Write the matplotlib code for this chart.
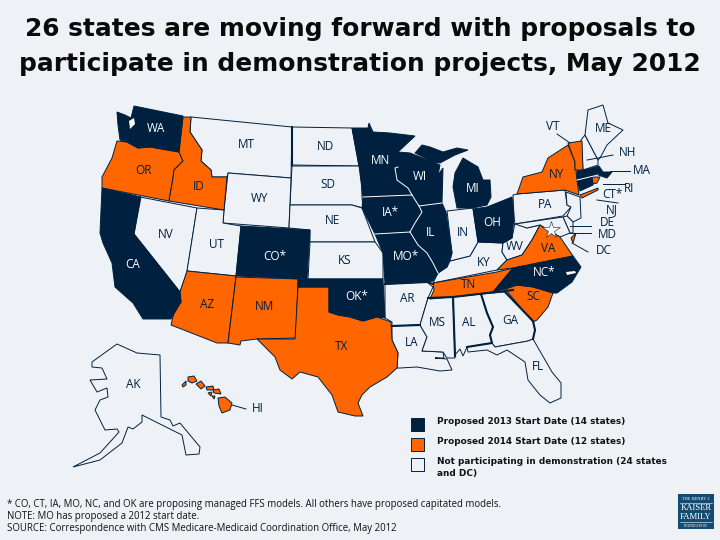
import matplotlib
matplotlib.use('Agg')
import matplotlib.pyplot as plt
from matplotlib.patches import Polygon, Rectangle

bg = '#eef2f6'
navy = '#002040'
orange = '#ff6600'

# state groups
states_2013 = ['WA', 'CA', 'CO', 'OK', 'MN', 'WI', 'MI', 'MI2', 'IA', 'IL', 'MO', 'OH', 'NC', 'MA', 'CT']
states_2014 = ['OR', 'ID', 'AZ', 'NM', 'TX', 'TN', 'VA', 'VA2', 'SC', 'NY', 'NY2', 'VT', 'RI',
               'HI1', 'HI2', 'HI3', 'HI4', 'HI5', 'HI6', 'HI7', 'HI8']
states_none = ['MT', 'ND', 'SD', 'WY', 'NV', 'UT', 'NE', 'KS', 'AR', 'LA', 'MS', 'AL', 'GA', 'FL', 'KY', 'IN',
               'WV', 'PA', 'NH', 'ME', 'NJ', 'DE', 'MD', 'AK']

# outlines, in pixels
outlines = {
    'WA': [(117,112),(125,115),(131,118),(134,106),(183,116),(179,152),(150,147),(138,148),(127,142),(120,140),(118,125)],
    'OR': [(117,141),(127,142),(138,148),(150,147),(179,152),(183,161),(174,170),(173,178),(169,201),(102,188),(102,177),(112,158)],
    'ID': [(183,117),(191,117),(190,132),(202,150),(201,161),(211,170),(212,177),(227,177),(224,210),(169,201),(173,178),(174,170),(183,161),(179,152)],
    'MT': [(191,117),(292,127),(291,178),(228,173),(227,177),(212,177),(211,170),(201,161),(202,150),(190,132)],
    'WY': [(228,173),(291,178),(289,228),(223,223),(224,210)],
    'NV': [(140,197),(197,208),(187,272),(180,292),(134,234)],
    'CA': [(102,188),(141,197),(134,234),(180,292),(181,302),(171,319),(143,319),(133,303),(115,287),(112,263),(103,243),(100,233)],
    'UT': [(197,208),(224,210),(223,223),(241,226),(236,276),(187,271)],
    'CO': [(241,226),(310,230),(307,279),(236,276)],
    'AZ': [(187,271),(236,276),(228,343),(217,343),(171,325),(174,312),(181,302),(180,292)],
    'NM': [(236,277),(298,279),(296,338),(257,339),(241,341),(240,345),(228,343)],
    'TX': [(298,287),(329,287),(329,312),(338,315),(350,317),(363,321),(377,317),(391,322),(392,340),(398,353),(397,368),(387,377),
           (370,387),(362,395),(358,403),(363,416),(355,416),(338,412),(332,395),(318,377),(300,372),(292,379),(280,370),(275,357),(257,339),(295,339)],
    'OK': [(298,279),(383,279),(385,318),(377,317),(363,321),(350,317),(338,315),(329,312),(329,287),(298,287)],
    'KS': [(310,242),(375,242),(378,246),(383,253),(383,279),(308,279)],
    'NE': [(290,205),(340,205),(352,205),(362,208),(375,242),(310,242),(310,230),(289,228)],
    'SD': [(292,166),(359,166),(361,170),(362,197),(363,208),(352,205),(340,205),(290,205)],
    'ND': [(292,127),(352,128),(359,166),(292,165)],
    'MN': [(352,128),(368,128),(369,123),(373,132),(390,133),(415,136),(398,152),(398,167),(395,168),(397,180),(408,188),(412,195),(363,197),(359,166)],
    'WI': [(398,152),(410,153),(433,162),(440,165),(438,175),(443,168),(442,203),(419,206),(412,195),(408,188),(397,180),(395,168),(398,167)],
    'MI': [(415,153),(422,145),(430,147),(443,152),(457,148),(468,150),(455,155),(440,163),(433,162)],
    'MI2': [(463,158),(478,167),(483,180),(490,180),(491,197),(487,205),(473,208),(457,208),(453,187),(455,173)],
    'IA': [(363,197),(412,195),(419,206),(422,212),(415,223),(410,232),(375,234),(362,208)],
    'IL': [(419,206),(442,203),(446,212),(452,253),(447,267),(438,273),(433,263),(427,253),(418,245),(410,233),(415,223),(422,212)],
    'MO': [(375,234),(410,232),(418,245),(427,253),(433,263),(438,273),(433,281),(427,282),(385,284),(383,253)],
    'AR': [(385,284),(427,282),(433,287),(428,298),(420,325),(392,326),(392,322),(385,318)],
    'LA': [(392,326),(420,325),(427,337),(422,351),(443,352),(444,358),(435,358),(447,359),(452,370),(440,371),(417,367),(400,368),(397,368),(398,353),(392,340)],
    'MS': [(428,298),(453,297),(455,358),(447,358),(443,352),(422,351),(427,337),(420,325)],
    'AL': [(453,297),(481,294),(487,313),(493,327),(490,335),(492,343),(467,347),(463,356),(460,349),(455,355)],
    'GA': [(481,294),(505,292),(533,321),(535,330),(533,339),(528,341),(495,347),(492,343),(490,335),(493,327),(487,313)],
    'FL': [(533,339),(552,372),(561,383),(561,398),(550,403),(540,395),(528,380),(525,362),(507,350),(497,355),(487,350),(468,352),(467,347),(492,343),(495,347),(528,341)],
    'SC': [(505,289),(517,285),(533,287),(553,293),(548,307),(537,320),(533,322)],
    'NC': [(493,292),(513,268),(573,256),(581,267),(572,282),(557,293),(553,293),(533,287),(517,285),(505,289)],
    'TN': [(433,283),(497,272),(513,268),(493,292),(453,297),(430,299),(434,290)],
    'VA': [(497,270),(507,260),(522,255),(532,240),(540,225),(548,230),(560,237),(573,256),(513,268)],
    'VA2': [(571,238),(576,233),(573,243)],
    'WV': [(503,243),(512,238),(515,223),(527,228),(540,225),(532,240),(522,255),(507,260),(502,252)],
    'KY': [(438,273),(447,267),(450,261),(470,256),(478,242),(503,243),(502,252),(507,260),(497,270),(433,283)],
    'IN': [(447,211),(473,208),(478,242),(470,256),(450,261),(452,253)],
    'OH': [(473,209),(487,207),(512,197),(514,217),(512,238),(503,243),(478,242)],
    'PA': [(513,195),(517,194),(565,190),(567,205),(571,207),(563,216),(515,224),(514,217)],
    'NY': [(517,194),(523,177),(542,172),(548,158),(568,145),(575,162),(575,170),(583,170),(576,172),(579,195),(565,190)],
    'NY2': [(580,195),(598,188),(598,190),(582,198)],
    'VT': [(568,143),(582,141),(583,170),(575,170),(575,162)],
    'NH': [(581,140),(585,135),(598,160),(598,165),(583,170)],
    'ME': [(585,135),(588,110),(603,105),(608,123),(623,130),(607,145),(600,158),(598,160)],
    'MA': [(577,172),(599,166),(603,172),(612,172),(607,178),(598,175),(577,180)],
    'CT': [(577,181),(592,177),(593,185),(580,191)],
    'RI': [(592,177),(600,177),(597,183),(593,184)],
    'NJ': [(566,192),(580,197),(581,218),(573,222),(567,216),(571,207),(567,205)],
    'DE': [(563,217),(567,216),(573,222),(573,233),(570,233)],
    'MD': [(515,224),(563,217),(570,233),(560,237),(548,230),(540,225),(527,228)],
    'AK': [(117,344),(137,353),(160,355),(161,417),(170,420),(173,426),(180,423),(200,447),(199,454),(186,455),(182,435),(142,415),(142,422),
           (133,429),(128,427),(122,443),(100,460),(73,467),(100,453),(110,442),(119,432),(117,429),(105,430),(95,410),(100,400),(108,397),
           (107,388),(97,392),(90,380),(107,379),(102,368),(92,367),(92,362)],
    'HI1': [(188,377),(194,376),(197,381),(192,383),(188,381)],
    'HI2': [(182,385),(186,381),(186,385),(183,387)],
    'HI3': [(196,384),(201,381),(205,386),(201,389)],
    'HI4': [(206,387),(213,386),(214,390),(207,390)],
    'HI5': [(213,390),(219,389),(221,394),(214,393)],
    'HI6': [(208,393),(212,392),(211,396)],
    'HI7': [(212,396),(215,396),(214,399)],
    'HI8': [(218,398),(225,397),(232,403),(230,410),(222,413),(219,406)],
}

# borders between two dark states are white
white_borders = [
    [(363,197),(412,195)],
    [(398,167),(395,168),(397,180),(408,188),(412,195)],
    [(412,195),(419,206),(442,203)],
    [(419,206),(422,212),(415,223),(410,232)],
    [(375,234),(410,232),(418,245),(427,253),(433,263),(438,273)],
    [(577,180),(598,175)],
]
thick_borders = [
    [(385,284),(427,282),(433,284)],
    [(392,326),(420,325)],
    [(428,298),(453,297),(455,356)],
    [(481,294),(487,313),(493,327),(490,335),(492,343),(467,347)],
    [(453,297),(513,290)],
    [(505,292),(533,321),(535,330),(533,339)],
    [(292,127),(292,165)],
]
inlets = [
    [(129,121),(134,118),(135,124),(130,129)],
    [(566,272),(575,271),(576,273),(567,275)],
]

state_labels = ['WA', 'OR', 'ID', 'MT', 'ND', 'SD', 'WY', 'NV', 'CA', 'UT', 'CO*', 'AZ', 'NM', 'NE', 'KS', 'OK*', 'TX',
                'MN', 'WI', 'MI', 'IA*', 'IL', 'MO*', 'IN', 'OH', 'KY', 'TN', 'AR', 'MS', 'AL', 'GA', 'LA', 'FL', 'SC',
                'NC*', 'VA', 'WV', 'PA', 'NY', 'VT', 'ME', 'NH', 'MA', 'RI', 'CT*', 'NJ', 'DE', 'MD', 'DC', 'AK', 'HI']
label_x = [156, 143, 199, 246, 326, 328, 260, 166, 133, 216, 275, 207, 265, 332, 345, 357, 342,
           380, 420, 473, 390, 431, 406, 463, 492, 484, 469, 407, 437, 469, 510, 412, 538, 533,
           544, 548, 515, 545, 557, 553, 603, 628, 642, 629, 612, 612, 607, 607, 604, 133, 258]
label_y = [129, 171, 187, 144, 146, 185, 199, 234, 265, 245, 256, 304, 306, 221, 260, 297, 347,
           161, 177, 188, 213, 233, 257, 232, 222, 262, 285, 299, 323, 322, 320, 343, 367, 297,
           273, 249, 246, 205, 175, 127, 129, 152, 171, 189, 194, 210, 223, 235, 250, 384, 408]
white_text = ['WA', 'CA', 'CO*', 'OK*', 'MN', 'WI', 'MI', 'IA*', 'IL', 'MO*', 'OH', 'NC*']

leaders = [
    [(557,134),(570,143)],
    [(587,160),(598,158),(613,155)],
    [(610,171),(630,171)],
    [(603,184),(625,184)],
    [(597,200),(618,203)],
    [(570,226),(591,226)],
    [(570,233),(591,233)],
    [(572,243),(588,252)],
    [(232,405),(246,409)],
]

legend_labels = ['Proposed 2013 Start Date (14 states)', 'Proposed 2014 Start Date (12 states)',
                 'Not participating in demonstration (24 states\nand DC)']
legend_colors = [navy, orange, bg]
legend_y = [418, 438, 458]

title_lines = ['26 states are moving forward with proposals to',
               'participate in demonstration projects, May 2012']
title_y = [29, 64]
footnote = ['* CO, CT, IA, MO, NC, and OK are proposing managed FFS models. All others have proposed capitated models.',
            'NOTE: MO has proposed a 2012 start date.',
            'SOURCE: Correspondence with CMS Medicare-Medicaid Coordination Office, May 2012']

fig = plt.figure(figsize=(7.2, 5.4), dpi=100, facecolor=bg)
ax = fig.add_axes([0, 0, 1, 1])
ax.set_xlim(0, 720)
ax.set_ylim(540, 0)
ax.axis('off')

for names, col in [(states_none, bg), (states_2014, orange), (states_2013, navy)]:
    for s in names:
        ax.add_patch(Polygon(outlines[s], closed=True, facecolor=col, edgecolor=navy, lw=0.7))

for b in thick_borders:
    ax.plot([p[0] for p in b], [p[1] for p in b], color=navy, lw=1.5)
for b in white_borders:
    ax.plot([p[0] for p in b], [p[1] for p in b], color='white', lw=0.7)
for p in inlets:
    ax.add_patch(Polygon(p, closed=True, facecolor='white', edgecolor='none'))
for l in leaders:
    ax.plot([p[0] for p in l], [p[1] for p in l], color=navy, lw=0.7)

ax.plot([551], [230], marker='*', ms=13, mfc='white', mec=navy, mew=0.4)

for t, x, y in zip(state_labels, label_x, label_y):
    col = 'white' if t in white_text else navy
    ax.text(x, y, t, color=col, fontsize=8.5, family='Open Sans', ha='center', va='center')

for t, y in zip(title_lines, title_y):
    ax.text(360, y, t, fontsize=17.9, fontweight='bold', family='DejaVu Sans', color='#0a0a0a',
            ha='center', va='center')

for y, col, t in zip(legend_y, legend_colors, legend_labels):
    ax.add_patch(Rectangle((411, y), 13, 13, facecolor=col, edgecolor=navy, lw=0.7))
    ax.text(437, y - 1, t, fontsize=6.4, fontweight='bold', family='DejaVu Sans', color='#111111',
            ha='left', va='top', linespacing=1.45)

for i, t in enumerate(footnote):
    ax.text(7, 505 + i * 12, t, fontsize=6.95, family='Open Sans', color='#111111', ha='left', va='center')

# logo
ax.add_patch(Rectangle((678, 494), 36, 35, facecolor='#134b72', edgecolor='none'))
logo_text = ['THE HENRY J.', 'KAISER', 'FAMILY', 'FOUNDATION']
logo_y = [499, 508, 517, 526]
logo_size = [3.2, 6.2, 6.2, 2.7]
for t, y, s in zip(logo_text, logo_y, logo_size):
    ax.text(696, y, t, color='white', fontsize=s, family='Liberation Serif', ha='center', va='center')
ax.plot([680, 712], [503, 503], color='white', lw=0.4)
ax.plot([680, 712], [522, 522], color='white', lw=0.4)

fig.savefig('out.png', dpi=100, facecolor=bg)
